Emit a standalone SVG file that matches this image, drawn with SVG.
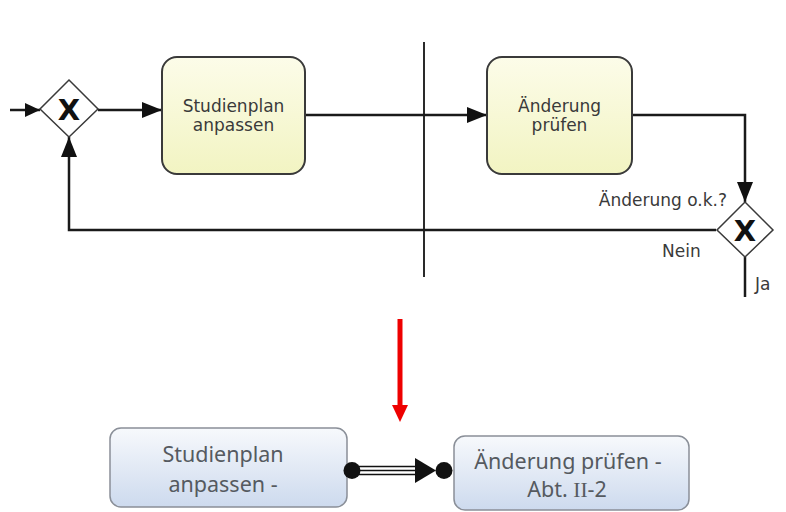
<svg xmlns="http://www.w3.org/2000/svg" width="786" height="512" viewBox="0 0 786 512">
  <defs>
    <linearGradient id="gY" x1="0" y1="0" x2="0" y2="1">
      <stop offset="0" stop-color="#fcfce9"/>
      <stop offset="1" stop-color="#f2f4c2"/>
    </linearGradient>
    <linearGradient id="gB" x1="0" y1="0" x2="0" y2="1">
      <stop offset="0" stop-color="#f7f9fc"/>
      <stop offset="1" stop-color="#cddaee"/>
    </linearGradient>
    <marker id="ah" viewBox="0 0 20 16" refX="20" refY="8" markerWidth="20" markerHeight="16" markerUnits="userSpaceOnUse" orient="auto">
      <path d="M0,0 L20,8 L0,16 Z" fill="#111"/>
    </marker>
    <marker id="ahs" viewBox="0 0 15 14" refX="15" refY="7" markerWidth="15" markerHeight="14" markerUnits="userSpaceOnUse" orient="auto">
      <path d="M0,0 L15,7 L0,14 Z" fill="#111"/>
    </marker>
  </defs>
  <style>
    .task { fill: url(#gY); stroke: #3a3a3a; stroke-width: 2; }
    .gw { fill: #ffffff; stroke: #3a3a3a; stroke-width: 1.5; }
    .gx { font-family: "DejaVu Sans", sans-serif; font-weight: bold; font-size: 29px; fill: #111; text-anchor: middle; }
    .t1 { font-family: "DejaVu Sans", sans-serif; font-size: 17px; fill: #3a3a3a; }
    .mid { text-anchor: middle; }
    .flow { fill: none; stroke: #1a1a1a; stroke-width: 2.5; }
    .box { fill: url(#gB); stroke: #8a8f98; stroke-width: 1.5; }
    .t2 { font-family: "Noto Sans", "Open Sans", sans-serif; font-size: 21.5px; fill: #555a60; text-anchor: middle; }
  </style>
  <rect width="786" height="512" fill="#ffffff"/>

  <!-- lane separator -->
  <line x1="424" y1="42" x2="424" y2="277" stroke="#2a2a2a" stroke-width="2"/>

  <g id="connectors">
    <path class="flow" d="M10,110 L40,110" marker-end="url(#ahs)"/>
    <path class="flow" d="M98,110 L162,110" marker-end="url(#ah)"/>
    <path class="flow" d="M305,115 L487,115" marker-end="url(#ah)"/>
    <path class="flow" d="M632,115 L745,115 L745,202" marker-end="url(#ah)"/>
    <path class="flow" d="M716,230 L69,230 L69,137" marker-end="url(#ah)"/>
    <path class="flow" d="M745,257 L745,297"/>
  </g>

  <g id="gateway1">
    <polygon class="gw" points="69,80 98,109 69,137 40,109"/>
    <text class="gx" x="69" y="119.5">X</text>
  </g>

  <g id="task1">
    <rect class="task" x="162" y="57" width="143" height="117" rx="15" ry="15"/>
    <text class="t1 mid" x="233.5" y="112">Studienplan</text>
    <text class="t1 mid" x="233.5" y="131">anpassen</text>
  </g>

  <g id="task2">
    <rect class="task" x="487" y="57" width="145" height="117" rx="15" ry="15"/>
    <text class="t1 mid" x="559.5" y="112">Änderung</text>
    <text class="t1 mid" x="559.5" y="131">prüfen</text>
  </g>

  <g id="gateway2">
    <polygon class="gw" points="745,202 773,230 745,257 717,230"/>
    <text class="gx" x="745" y="240.5">X</text>
    <text class="t1" x="727" y="206" text-anchor="end">Änderung o.k.?</text>
    <text class="t1" x="662" y="257">Nein</text>
    <text class="t1" x="755" y="290">Ja</text>
  </g>

  <!-- red transition arrow -->
  <g id="red-arrow">
    <line x1="400" y1="319" x2="400" y2="407" stroke="#ee0000" stroke-width="5"/>
    <polygon points="392,405 408,405 400,422" fill="#ee0000"/>
  </g>

  <g id="box1">
    <rect class="box" x="110" y="428" width="237" height="79" rx="11" ry="11"/>
    <text class="t2" x="223" y="462">Studienplan</text>
    <text class="t2" x="223" y="492">anpassen -</text>
  </g>

  <g id="box2">
    <rect class="box" x="454" y="436" width="235" height="74" rx="11" ry="11"/>
    <text class="t2" x="568" y="469">Änderung prüfen -</text>
    <text class="t2" x="567" y="497">Abt. <tspan font-family="Liberation Serif, serif">II</tspan>-2</text>
  </g>

  <g id="box-connector">
    <line x1="352" y1="466.5" x2="418" y2="466.5" stroke="#111" stroke-width="1.5"/>
    <line x1="352" y1="470.5" x2="418" y2="470.5" stroke="#111" stroke-width="1.5"/>
    <line x1="352" y1="474.5" x2="418" y2="474.5" stroke="#111" stroke-width="1.5"/>
    <circle cx="352" cy="470.5" r="8.5" fill="#111"/>
    <polygon points="415,458 436,470.5 415,483" fill="#111"/>
    <circle cx="444" cy="470.5" r="8.5" fill="#111"/>
  </g>
</svg>
